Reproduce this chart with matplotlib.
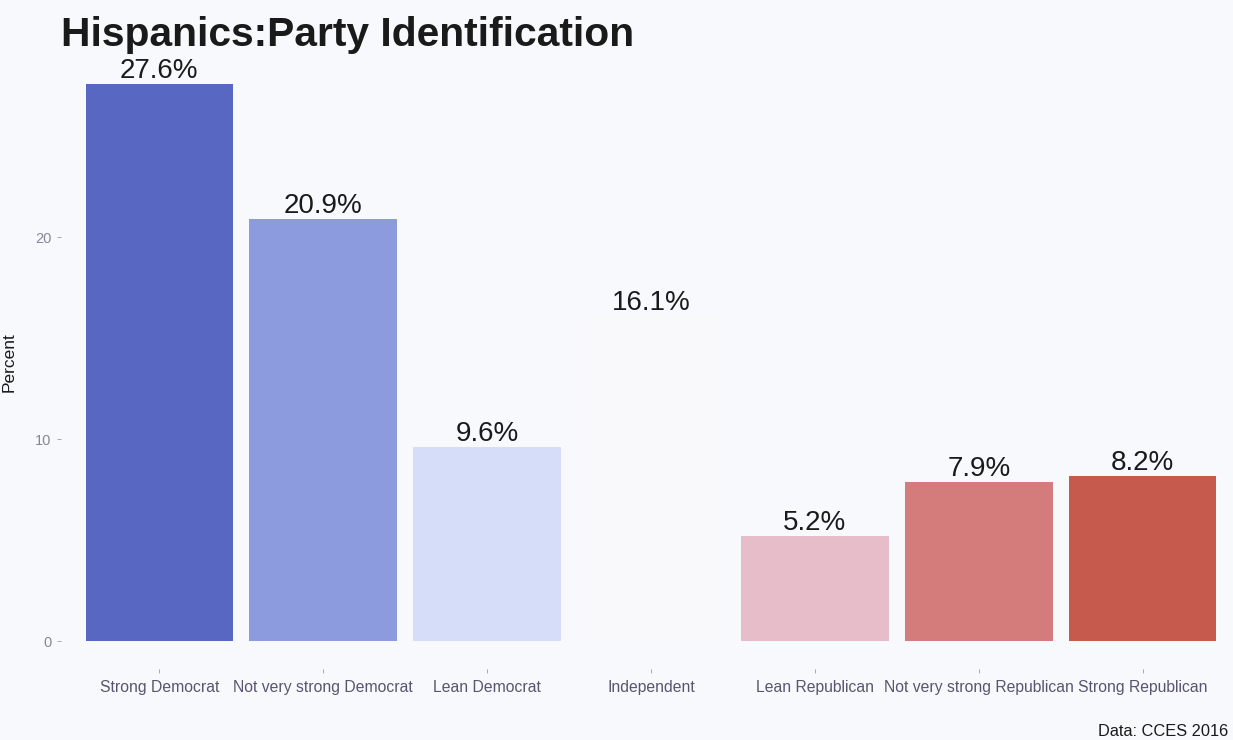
import matplotlib

matplotlib.use("Agg")
import matplotlib.pyplot as plt  # noqa: E402

categories = [
    "Strong Democrat", "Not very strong Democrat", "Lean Democrat", "Independent",
    "Lean Republican", "Not very strong Republican", "Strong Republican",
]
percent = [27.6, 20.9, 9.6, 16.1, 5.2, 7.9, 8.2]
bar_colors = [
    "#5867c2", "#8b9bdd", "#d5ddf8", "#f9f9fc",
    "#e8bdca", "#d47c7b", "#c65a4d",
]
y_ticks = [0, 10, 20]

plt.rcParams["font.family"] = ["Liberation Sans", "DejaVu Sans"]

fig = plt.figure(figsize=(12.33, 7.40), dpi=100)
bg = "#f8f9fc"
fig.patch.set_facecolor(bg)
# panel runs slightly past the right edge, as in the exported figure
ax = fig.add_axes([61 / 1233, 1 - 669 / 740, 1180 / 1233, 613 / 740])
ax.set_facecolor(bg)

xs = list(range(len(categories)))
ax.bar(xs, percent, width=0.9, color=bar_colors, linewidth=0)
for x, v in zip(xs, percent):
    ax.annotate(f"{v}%", (x, v), xytext=(0, 0), textcoords="offset points",
                ha="center", va="bottom", fontsize=20, color="#1a1a1a")

ax.set_xlim(-0.6, len(categories) - 0.4)
ax.set_ylim(-0.05 * max(percent), max(percent) * 1.05)
ax.set_xticks(xs)
ax.set_xticklabels(categories, fontsize=11.3, color="#5a5470")
ax.set_yticks(y_ticks)
ax.set_yticklabels([str(t) for t in y_ticks], fontsize=10.5, color="#8a8499")
ax.tick_params(axis="x", length=3, width=0.6, color="#9a9aa8", pad=5)
ax.tick_params(axis="y", length=3, width=0.6, color="#9a9aa8", pad=4)
for s in ax.spines.values():
    s.set_visible(False)
ax.set_ylabel("Percent", fontsize=12.5, color="#1a1a1a")
ax.yaxis.set_label_coords(-44 / 1180, 0.5)

fig.text(61 / 1233, 1 - 46 / 740, "Hispanics:Party Identification",
         fontsize=29.3, fontweight="bold", color="#1a1a1a", ha="left", va="baseline")
fig.text(1228 / 1233, 1 - 739 / 740, "Data: CCES 2016", fontsize=11.8,
         color="#1a1a1a", ha="right", va="bottom")

fig.savefig("out.png", dpi=100, facecolor=bg)
